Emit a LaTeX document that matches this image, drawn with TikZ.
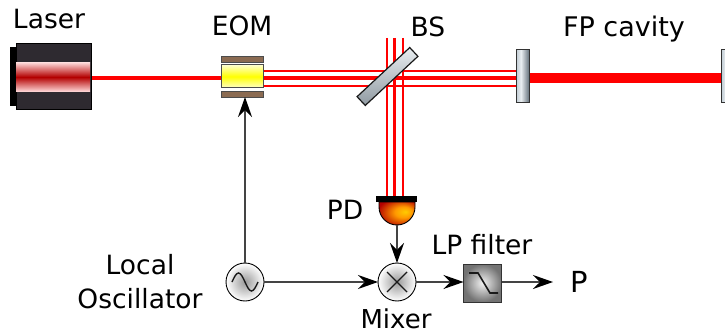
\documentclass[tikz,border=0pt]{standalone}
\usepackage{fontspec}
\setmainfont{DejaVu Sans}
\usetikzlibrary{arrows.meta, backgrounds}
\definecolor{wire}{HTML}{444444}
\definecolor{beam}{HTML}{FF0000}
\definecolor{housing}{HTML}{2E2A30}
\definecolor{electrode}{HTML}{8B6B52}
\definecolor{glassedge}{HTML}{C4CFD6}
\definecolor{glasslight}{HTML}{E9EEF1}
\definecolor{glassdark}{HTML}{5F6C76}
\pgfdeclarehorizontalshading{glass}{100bp}{
  color(0bp)=(glassedge);
  color(25bp)=(glassedge);
  color(42bp)=(glasslight);
  color(75bp)=(glassdark);
  color(100bp)=(glassdark)}
\pgfdeclareradialshading{pdglow}{\pgfpoint{12bp}{4bp}}{
  color(0bp)=(yellow!60!orange);
  color(12bp)=(orange!80!yellow);
  color(32bp)=(red!70!black);
  color(50bp)=(red!60!black)}

\begin{document}
\begin{tikzpicture}[
  x=1pt, y=-1pt,
  part/.style={rectangle, inner sep=0pt, outer sep=0pt},
  optic/.style={part, draw=black!80, line width=1pt, shading=glass},
  ball/.style={circle, draw=black, line width=0.9pt, minimum size=38pt, inner sep=0pt, outer sep=0pt, inner color=black!40, outer color=white},
  label/.style={font=\fontsize{26.5}{32}\selectfont, align=center},
  arr/.style={-{Stealth[length=20pt, width=14pt, inset=7pt, color=black]}, line width=1.4pt, color=wire},
  glyph/.style={line width=1.4pt, color=black!90},
  main/.style={color=beam, line width=4pt},
  side/.style={color=beam, line width=2pt}
]
\useasboundingbox (0,0) rectangle (725,334);

% laser head
\node[part, fill=black, minimum width=6pt, minimum height=59pt] (back) at (13,76.5) {};
\node[part, fill=housing, draw=black, minimum width=75pt, minimum height=66pt] (laser) at (53.5,76) {};
\node[part, minimum width=74pt, minimum height=29pt, top color=red!15, bottom color=red!15, middle color=red!70!black] (rod) at (53,77) {};

% eom
\node[part, fill=electrode, draw=black!70, minimum width=42pt, minimum height=6pt] (upper) at (242,59) {};
\node[part, fill=electrode, draw=black!70, minimum width=42pt, minimum height=6pt] (lower) at (242,94) {};
\node[part, draw=black!70, line width=1pt, minimum width=42pt, minimum height=23pt, top color=yellow!20, bottom color=yellow!20, middle color=yellow] (eom) at (242,76.5) {};

% optics
\node[part, draw=black!90, line width=1.2pt, minimum width=72pt, minimum height=12pt, rotate=43, top color=glasslight, bottom color=glassdark!65!glasslight] (bs) at (387.5,76.5) {};
\node[optic, minimum width=13pt, minimum height=53pt] (mirrorin) at (523,76.5) {};
\node[optic, minimum width=13pt, minimum height=53pt] (mirrorout) at (728,76.5) {};

% photodiode
\coordinate (axis) at (0,78);
\coordinate (beamtop) at (394.5,38);
\node[part, fill=black, minimum width=41pt, minimum height=6pt] (pdbar) at (396.5,199) {};
\draw[black, line width=0.9pt, shading=pdglow]
  (379,202) -- (379,207) arc[start angle=180, end angle=0, radius=18] -- (415,202) -- cycle;
\coordinate (pd) at (397,225);

% electronics
\node[ball] (osc) at (245,282) {};
\node[ball] (mixer) at (397,282) {};
\node[part, draw=black!80, line width=1pt, minimum size=38pt, inner color=black!5, outer color=black!55] (filter) at (482.5,283) {};
\node[label, font=\fontsize{29}{32}\selectfont] (out) at (579,282) {P};

\node[label] at (49,19) {Laser};
\node[label] at (242,26) {EOM};
\node[label] at (428,27) {BS};
\node[label, font=\fontsize{27}{32}\selectfont] at (624,29) {FP cavity};
\node[label] at (345,210) {PD};
\node[label, font=\fontsize{26.5}{34}\selectfont] at (140,282) {Local\\Oscillator};
\node[label] at (482,245) {LP filter};
\node[label, font=\fontsize{26}{30}\selectfont] at (396,319) {Mixer};

\begin{scope}[shift={(osc.center)}]
  \draw[glyph] (-13,0) sin (-6.5,-9) cos (0,0) sin (6.5,9) cos (13,0);
\end{scope}
\begin{scope}[shift={(mixer.center)}]
  \draw[glyph] (-10,-10) -- (10,10) (-10,10) -- (10,-10);
\end{scope}
\begin{scope}[shift={(filter.center)}]
  \draw[glyph, line width=1.6pt] (-13.5,-10) -- (-4.5,-10) -- (7.5,10) -- (15.5,10);
\end{scope}

% beams stay behind the optics
\begin{scope}[on background layer]
  \draw[main] (laser.east |- axis) -- (eom.west |- axis);
  \draw[main] (eom.east |- axis) -- (mirrorin.west |- axis);
  \draw[side] ([yshift=7pt]eom.east |- axis) -- ([yshift=7pt]mirrorin.west |- axis);
  \draw[side] ([yshift=-8pt]eom.east |- axis) -- ([yshift=-8pt]mirrorin.west |- axis);
  \draw[main, line width=3.5pt] (beamtop) -- (beamtop |- pdbar.north);
  \draw[side] ([xshift=-7.5pt]beamtop) -- ([xshift=-7.5pt]beamtop |- pdbar.north);
  \draw[side] ([xshift=8.5pt]beamtop) -- ([xshift=8.5pt]beamtop |- pdbar.north);
  \draw[color=beam, line width=10pt] (mirrorin.east |- axis) -- (mirrorout.west |- axis);
\end{scope}

\draw[arr] (osc) -- (osc |- lower.south);
\draw[arr] (osc) -- (mixer);
\draw[arr] (pd) -- (pd |- mixer.north);
\draw[arr] (mixer) -- (mixer -| filter.west);
\draw[arr] (mixer -| filter.east) -- ([xshift=-26pt]out.center |- mixer);
\end{tikzpicture}
\end{document}
